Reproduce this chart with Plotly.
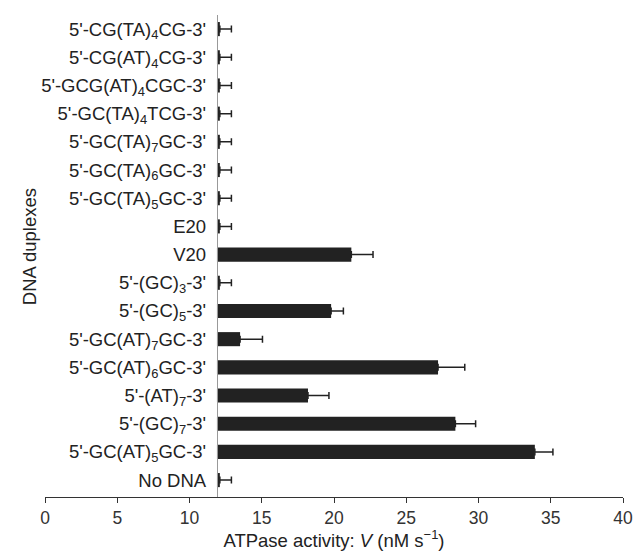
import plotly.graph_objects as go

categories = [
    "5'-CG(TA)<sub>4</sub>CG-3'",
    "5'-CG(AT)<sub>4</sub>CG-3'",
    "5'-GCG(AT)<sub>4</sub>CGC-3'",
    "5'-GC(TA)<sub>4</sub>TCG-3'",
    "5'-GC(TA)<sub>7</sub>GC-3'",
    "5'-GC(TA)<sub>6</sub>GC-3'",
    "5'-GC(TA)<sub>5</sub>GC-3'",
    "E20",
    "V20",
    "5'-(GC)<sub>3</sub>-3'",
    "5'-(GC)<sub>5</sub>-3'",
    "5'-GC(AT)<sub>7</sub>GC-3'",
    "5'-GC(AT)<sub>6</sub>GC-3'",
    "5'-(AT)<sub>7</sub>-3'",
    "5'-(GC)<sub>7</sub>-3'",
    "5'-GC(AT)<sub>5</sub>GC-3'",
    "No DNA",
]
activity = [12.1, 12.1, 12.1, 12.1, 12.1, 12.1, 12.1, 12.1, 21.2, 12.1, 19.8, 13.5, 27.2, 18.2, 28.4, 33.9, 12.1]
errors = [0.8, 0.8, 0.8, 0.8, 0.8, 0.8, 0.8, 0.8, 1.5, 0.8, 0.85, 1.55, 1.85, 1.45, 1.4, 1.25, 0.8]
axis_cross = 11.9
x_ticks = [0, 5, 10, 15, 20, 25, 30, 35, 40]

fig = go.Figure()
fig.add_trace(go.Bar(
    y=categories,
    x=[v - axis_cross for v in activity],
    base=axis_cross,
    orientation="h",
    marker=dict(color="#222222", line=dict(width=0)),
    error_x=dict(type="data", array=errors, arrayminus=[0] * len(errors),
                 symmetric=False, color="#222222", thickness=1.5, width=3.5),
    width=0.5,
))

font_family = "Liberation Sans, Arial, sans-serif"
fig.update_layout(
    width=633, height=551,
    margin=dict(l=45, r=10, t=15, b=54, autoexpand=False),
    plot_bgcolor="white", paper_bgcolor="white",
    showlegend=False,
    font=dict(family=font_family, size=18, color="#222222"),
    xaxis=dict(
        range=[0, 40], tickvals=x_ticks, ticktext=[str(t) for t in x_ticks],
        automargin=False,
        showgrid=False, zeroline=False,
        showline=True, linecolor="#333333", linewidth=1.2,
        ticks="outside", ticklen=5, tickcolor="#333333", tickwidth=1.2,
        tickfont=dict(size=17.5, color="#333333"),
        title=dict(text="ATPase activity: <i>V</i> (nM s<sup>−1</sup>)",
                   font=dict(size=18.5, color="#222222"), standoff=3),
    ),
    yaxis=dict(
        type="category", range=[16.6, -0.5],
        anchor="free", position=axis_cross / 40,
        automargin=False,
        showgrid=False, zeroline=False,
        showline=True, linecolor="#999999", linewidth=1.2,
        ticks="", ticklabelstandoff=7,
        tickfont=dict(size=18.5, color="#222222"),
    ),
    annotations=[dict(
        text="DNA duplexes", xref="paper", yref="paper",
        x=-0.047, y=0.519, textangle=-90, showarrow=False,
        font=dict(size=18.5, color="#222222"),
    )],
)

fig.write_html(
    "out.html",
    config={"displayModeBar": False},
    post_script="document.body.style.margin='0';document.body.style.overflow='hidden';",
)
